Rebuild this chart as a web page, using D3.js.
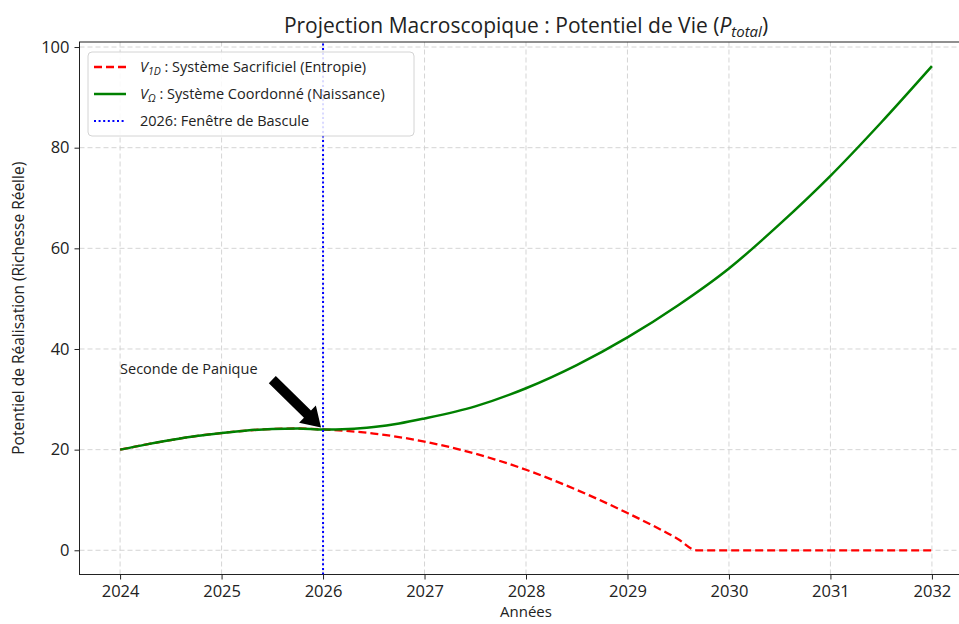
<!DOCTYPE html>
<html>
<head>
<meta charset="utf-8">
<script src="https://cdn.jsdelivr.net/npm/d3@7"></script>
<style>
  body { margin: 0; background: #fff; }
  svg text { font-family: "Open Sans", "Noto Sans", sans-serif; fill: #222; }
</style>
</head>
<body>
<div id="chart"></div>
<script>
// values
var years = [2024, 2024.25, 2024.5, 2024.75, 2025, 2025.25, 2025.5, 2025.75, 2026,
             2026.25, 2026.5, 2026.75, 2027, 2027.5, 2028, 2028.5, 2029, 2029.5,
             2030, 2030.5, 2031, 2031.5, 2032]
var coordonne = [20, 21.0, 21.9, 22.7, 23.3, 23.8, 24.1, 24.2, 24.0,
                 24.1, 24.5, 25.2, 26.2, 28.6, 32.2, 36.8, 42.3, 48.7,
                 56.0, 64.8, 74.4, 85.0, 96.2]
var yearsSacr = [2024, 2024.25, 2024.5, 2024.75, 2025, 2025.25, 2025.5, 2025.75, 2026,
                 2026.5, 2027, 2027.5, 2028, 2028.5, 2029, 2029.5, 2029.68,
                 2030, 2030.5, 2031, 2031.5, 2032]
var sacrificiel = [20, 21.0, 21.9, 22.7, 23.3, 23.8, 24.1, 24.2, 24.0,
                   23.2, 21.6, 19.2, 16.0, 12.0, 7.4, 2.2, 0,
                   0, 0, 0, 0, 0]
var xTicks = [2024, 2025, 2026, 2027, 2028, 2029, 2030, 2031, 2032]
var yTicks = [0, 20, 40, 60, 80, 100]
var bascule = 2026
var annotation = { text: 'Seconde de Panique', x: 2024, y: 35, tail: [2025.5, 33.9], tip: [2025.98, 24.4] }

var width = 959, height = 624

var svg = d3.select('#chart').append('svg')
    .attr('width', width)
    .attr('height', height)

var x = d3.scaleLinear().domain([2023.6, 2032.4]).range([79.5, 972.5])
var y = d3.scaleLinear().domain([-4.81, 101.0]).range([574.5, 42])

svg.append('clipPath').attr('id', 'plot')
    .append('rect')
    .attr('x', x.range()[0]).attr('y', y.range()[1])
    .attr('width', x.range()[1] - x.range()[0])
    .attr('height', y.range()[0] - y.range()[1])

// grid
var grid = svg.append('g')
grid.selectAll('.gx').data(xTicks).enter().append('line')
    .attr('x1', function (d) { return x(d) }).attr('x2', function (d) { return x(d) })
    .attr('y1', y.range()[0]).attr('y2', y.range()[1])
    .attr('stroke', '#d0d0d0').attr('stroke-width', 0.9).attr('stroke-dasharray', '5,3')
grid.selectAll('.gy').data(yTicks).enter().append('line')
    .attr('y1', function (d) { return y(d) }).attr('y2', function (d) { return y(d) })
    .attr('x1', x.range()[0]).attr('x2', x.range()[1])
    .attr('stroke', '#d0d0d0').attr('stroke-width', 0.9).attr('stroke-dasharray', '5,3')

// axes
var xAxis = svg.append('g')
    .attr('transform', 'translate(0,' + y.range()[0] + ')')
    .call(d3.axisBottom(x).tickValues(xTicks).tickFormat(d3.format('d')).tickSize(5).tickPadding(6))
var yAxis = svg.append('g')
    .attr('transform', 'translate(' + x.range()[0] + ',0)')
    .call(d3.axisLeft(y).tickValues(yTicks).tickSize(5).tickPadding(5))
;[xAxis, yAxis].forEach(function (a) {
    a.select('.domain').remove()
    a.selectAll('line').attr('stroke', '#222')
    a.selectAll('text').style('font-size', '16.5px').attr('fill', '#222')
})

// frame
svg.append('rect')
    .attr('x', x.range()[0]).attr('y', y.range()[1])
    .attr('width', x.range()[1] - x.range()[0])
    .attr('height', y.range()[0] - y.range()[1])
    .attr('fill', 'none').attr('stroke', '#222').attr('stroke-width', 1)

var plot = svg.append('g').attr('clip-path', 'url(#plot)')

var line = d3.line()
    .x(function (d) { return x(d[0]) })
    .y(function (d) { return y(d[1]) })
    .curve(d3.curveMonotoneX)

plot.append('path')
    .datum(d3.zip(yearsSacr, sacrificiel))
    .attr('d', line)
    .attr('fill', 'none').attr('stroke', '#ff0000')
    .attr('stroke-width', 2.3).attr('stroke-dasharray', '8,4')

plot.append('path')
    .datum(d3.zip(years, coordonne))
    .attr('d', line)
    .attr('fill', 'none').attr('stroke', '#008000')
    .attr('stroke-width', 2.5)

plot.append('line')
    .attr('x1', x(bascule)).attr('x2', x(bascule))
    .attr('y1', y.range()[0]).attr('y2', y.range()[1])
    .attr('stroke', '#0000ff').attr('stroke-width', 2).attr('stroke-dasharray', '2,2.6')

// annotation arrow
var tx = x(annotation.tail[0]), ty = y(annotation.tail[1])
var hx = x(annotation.tip[0]), hy = y(annotation.tip[1])
var ang = Math.atan2(hy - ty, hx - tx)
var len = Math.hypot(hx - tx, hy - ty)
var sw = 5, hw = 12, hl = 19
var pts = [[0, -sw], [len - hl, -sw], [len - hl, -hw], [len, 0], [len - hl, hw], [len - hl, sw], [0, sw]]
    .map(function (p) {
        return [tx + p[0] * Math.cos(ang) - p[1] * Math.sin(ang),
                ty + p[0] * Math.sin(ang) + p[1] * Math.cos(ang)]
    })
svg.append('polygon')
    .attr('points', pts.map(function (p) { return p.join(',') }).join(' '))
    .attr('fill', '#000')

svg.append('text')
    .attr('x', x(annotation.x)).attr('y', y(annotation.y))
    .style('font-size', '14.5px')
    .text(annotation.text)

// legend
var legend = svg.append('g').attr('transform', 'translate(88,52)')
legend.append('rect')
    .attr('width', 326).attr('height', 84).attr('rx', 4)
    .attr('fill', '#fff').attr('fill-opacity', 0.85)
    .attr('stroke', '#d4d4d4')
var items = [
    { color: '#ff0000', dash: '8,4', w: 2.3, label: ['V', '1D', ' : Système Sacrificiel (Entropie)'] },
    { color: '#008000', dash: null, w: 2.5, label: ['V', 'Ω', ' : Système Coordonné (Naissance)'] },
    { color: '#0000ff', dash: '2,2.6', w: 2, label: [null, null, '2026: Fenêtre de Bascule'] }
]
items.forEach(function (it, i) {
    var cy = 15 + i * 27
    legend.append('line')
        .attr('x1', 6).attr('x2', 38).attr('y1', cy).attr('y2', cy)
        .attr('stroke', it.color).attr('stroke-width', it.w)
        .attr('stroke-dasharray', it.dash)
    var t = legend.append('text').attr('x', 52).attr('y', cy + 5).style('font-size', '14.5px')
    if (it.label[0]) {
        t.append('tspan').style('font-style', 'italic').text(it.label[0])
        t.append('tspan').attr('dy', 3).style('font-size', '10.5px')
            .style('font-style', 'italic').text(it.label[1])
        t.append('tspan').attr('dy', -3).text(it.label[2])
    } else {
        t.text(it.label[2])
    }
})

// title and axis labels
var title = svg.append('text')
    .attr('x', (x.range()[0] + x.range()[1]) / 2).attr('y', 33)
    .attr('text-anchor', 'middle')
    .style('font-size', '21px')
title.append('tspan').text('Projection Macroscopique : Potentiel de Vie (')
title.append('tspan').style('font-style', 'italic').text('P')
title.append('tspan').attr('dy', 4).style('font-size', '15px').style('font-style', 'italic').text('total')
title.append('tspan').attr('dy', -4).text(')')

svg.append('text')
    .attr('x', (x.range()[0] + x.range()[1]) / 2).attr('y', 617)
    .attr('text-anchor', 'middle')
    .style('font-size', '15px')
    .text('Années')

svg.append('text')
    .attr('transform', 'translate(24,' + ((y.range()[0] + y.range()[1]) / 2) + ') rotate(-90)')
    .attr('text-anchor', 'middle')
    .style('font-size', '15.5px')
    .text('Potentiel de Réalisation (Richesse Réelle)')
</script>
</body>
</html>
